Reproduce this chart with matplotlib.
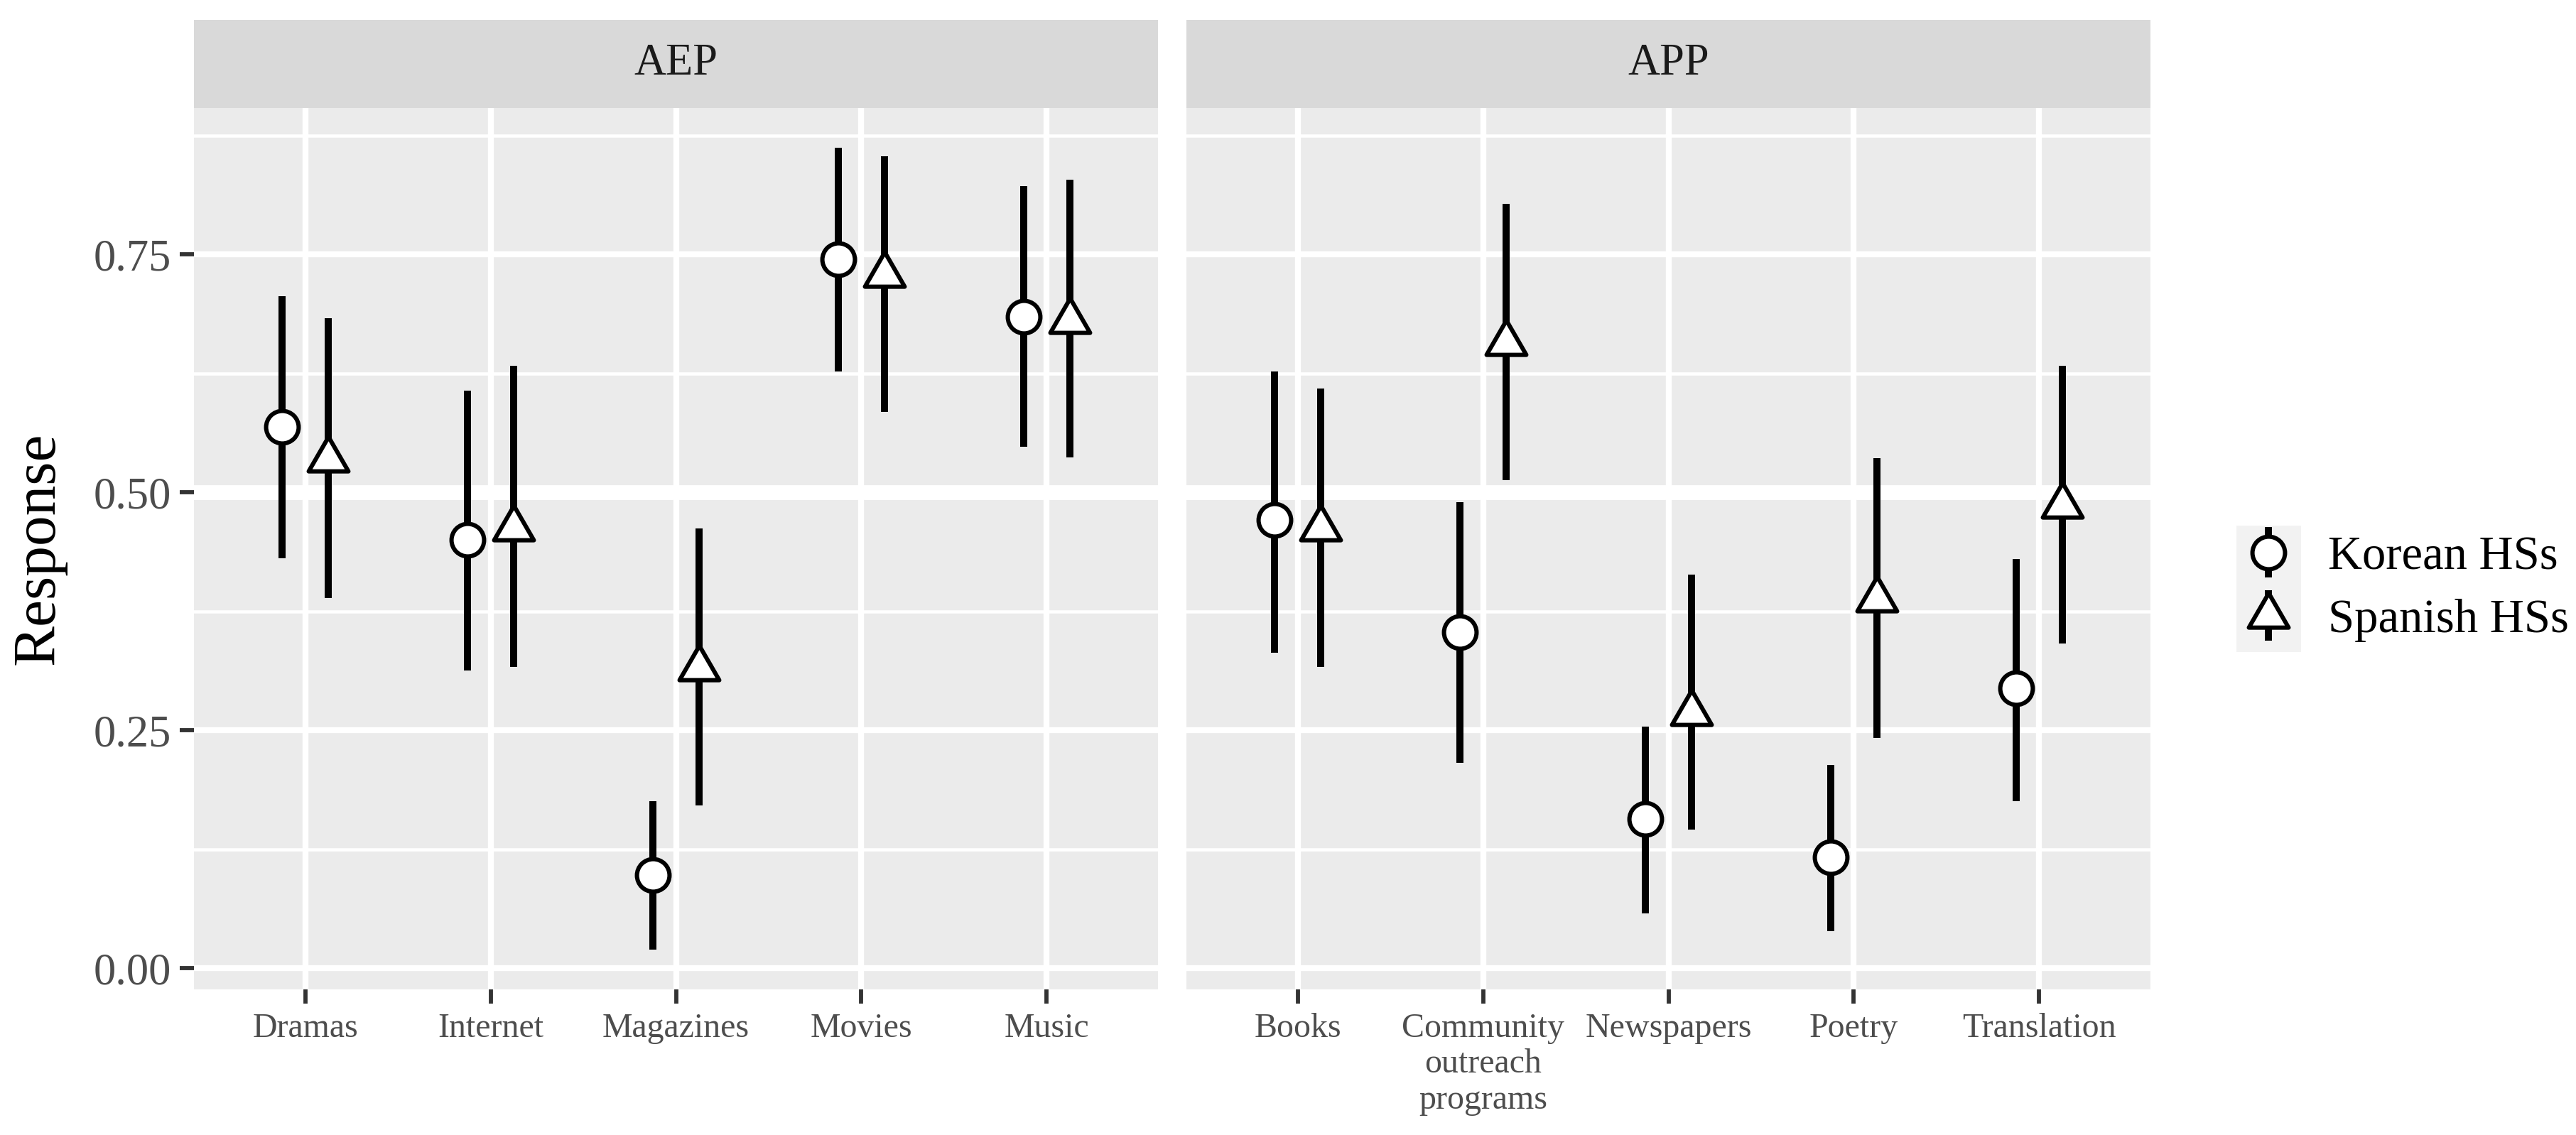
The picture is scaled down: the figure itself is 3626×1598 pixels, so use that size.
import numpy as np
import matplotlib.pyplot as plt
from matplotlib.path import Path
from matplotlib.patches import Rectangle
from matplotlib.container import ErrorbarContainer
from matplotlib.legend_handler import HandlerErrorbar

plt.rcParams['font.family'] = ['Liberation Serif', 'DejaVu Serif']

# category labels per facet
aep_labels = ['Dramas', 'Internet', 'Magazines', 'Movies', 'Music']
app_labels = ['Books', 'Community\noutreach\nprograms', 'Newspapers', 'Poetry', 'Translation']

# AEP estimates with lower / upper interval
aep_korean = [0.569, 0.450, 0.098, 0.745, 0.685]
aep_korean_lo = [0.431, 0.313, 0.020, 0.627, 0.548]
aep_korean_hi = [0.706, 0.607, 0.176, 0.862, 0.822]
aep_spanish = [0.535, 0.462, 0.315, 0.729, 0.680]
aep_spanish_lo = [0.389, 0.317, 0.171, 0.585, 0.537]
aep_spanish_hi = [0.683, 0.633, 0.462, 0.853, 0.829]

# APP estimates with lower / upper interval
app_korean = [0.471, 0.353, 0.157, 0.117, 0.294]
app_korean_lo = [0.332, 0.216, 0.058, 0.039, 0.176]
app_korean_hi = [0.627, 0.490, 0.254, 0.214, 0.430]
app_spanish = [0.462, 0.657, 0.268, 0.388, 0.486]
app_spanish_lo = [0.317, 0.513, 0.146, 0.242, 0.341]
app_spanish_hi = [0.609, 0.803, 0.414, 0.536, 0.633]

group_names = ['Korean HSs', 'Spanish HSs']
yticks = [0.0, 0.25, 0.50, 0.75]
yminor = [0.125, 0.375, 0.625, 0.875]

# R-style triangle, centred on its centroid
tri = Path([(0, 1), (-0.866, -0.5), (0.866, -0.5), (0, 1)],
           [Path.MOVETO, Path.LINETO, Path.LINETO, Path.CLOSEPOLY])

all_vals = np.concatenate([aep_korean_lo, aep_korean_hi, aep_spanish_lo, aep_spanish_hi,
                           app_korean_lo, app_korean_hi, app_spanish_lo, app_spanish_hi])
yr = all_vals.max() - all_vals.min()
ylim = (all_vals.min() - 0.05 * yr, all_vals.max() + 0.05 * yr)

W, H = 3626, 1598
fig = plt.figure(figsize=(W / 300, H / 300), dpi=300)

panel_bottom = 1 - 1393 / H
panel_h = (1393 - 152) / H
strip_h = (152 - 28) / H
panels = [
    ('AEP', 273, aep_labels, aep_korean, aep_korean_lo, aep_korean_hi,
     aep_spanish, aep_spanish_lo, aep_spanish_hi),
    ('APP', 1670, app_labels, app_korean, app_korean_lo, app_korean_hi,
     app_spanish, app_spanish_lo, app_spanish_hi),
]
pw = (1630 - 273) / W

circ_kw = dict(ms=11, mfc='white', mec='black', mew=1.45)
tri_kw = dict(ms=15.5, mfc='white', mec='black', mew=1.45)
bar_kw = dict(ecolor='black', elinewidth=2.4, capsize=0)

handles = None
for i, (title, left, labels, k, klo, khi, s, slo, shi) in enumerate(panels):
    ax = fig.add_axes([left / W, panel_bottom, pw, panel_h])
    ax.set_facecolor('#EBEBEB')
    for sp in ax.spines.values():
        sp.set_visible(False)
    x = np.arange(1, len(labels) + 1)
    k = np.array(k); s = np.array(s)
    ek = ax.errorbar(x - 0.125, k, yerr=[k - np.array(klo), np.array(khi) - k],
                     fmt='o', zorder=3, **circ_kw, **bar_kw)
    ax.errorbar(x + 0.125, s, yerr=[s - np.array(slo), np.array(shi) - s],
                fmt='none', zorder=3, **bar_kw)
    ax.plot(x + 0.125, s, linestyle='none', marker=tri, zorder=4, **tri_kw)
    if handles is None:
        tri_h = ax.errorbar([np.nan], [np.nan], yerr=[[0.1], [0.1]], marker=tri,
                            linestyle='none', **tri_kw, **bar_kw)
        handles = [ek, tri_h]
    ax.set_xlim(0.4, len(labels) + 0.6)
    ax.set_ylim(*ylim)
    ax.set_xticks(x)
    ax.set_xticklabels(labels, fontsize=11.5, linespacing=1.2)
    ax.set_yticks(yticks)
    ax.set_yticks(yminor, minor=True)
    ax.set_axisbelow(True)
    ax.grid(which='major', color='white', lw=2.0)
    ax.grid(which='minor', axis='y', color='white', lw=1.1)
    ax.axhline(0.5, color='white', lw=5, zorder=1)
    ax.tick_params(which='major', length=4.8, width=1.4, color='#333333',
                   labelcolor='#4D4D4D', pad=3)
    ax.tick_params(which='minor', length=0)
    if i == 0:
        ax.set_yticklabels(['0.00', '0.25', '0.50', '0.75'], fontsize=15)
        ax.set_ylabel('Response', fontsize=20.5, color='black', labelpad=9)
    else:
        ax.tick_params(axis='y', which='both', left=False, labelleft=False)

    sax = fig.add_axes([left / W, panel_bottom + panel_h, pw, strip_h])
    sax.set_facecolor('#D9D9D9')
    sax.set_xticks([]); sax.set_yticks([])
    for sp in sax.spines.values():
        sp.set_visible(False)
    sax.text(0.5, 0.5, title, ha='center', va='center', fontsize=15,
             color='#1A1A1A', transform=sax.transAxes)

# legend key background
fig.patches.append(Rectangle((3148 / W, 1 - 918 / H), 91 / W, 178 / H,
                             transform=fig.transFigure, facecolor='#F2F2F2',
                             edgecolor='none', zorder=0))
fig.legend(handles, group_names, loc='center left',
           bbox_to_anchor=(3150 / W, 1 - 829 / H), frameon=False, fontsize=16,
           numpoints=1, handlelength=1.3, handletextpad=0.6, labelspacing=0.42,
           borderpad=0, borderaxespad=0,
           handler_map={ErrorbarContainer: HandlerErrorbar(yerr_size=0.53)})

fig.savefig('out.png', dpi=300)
